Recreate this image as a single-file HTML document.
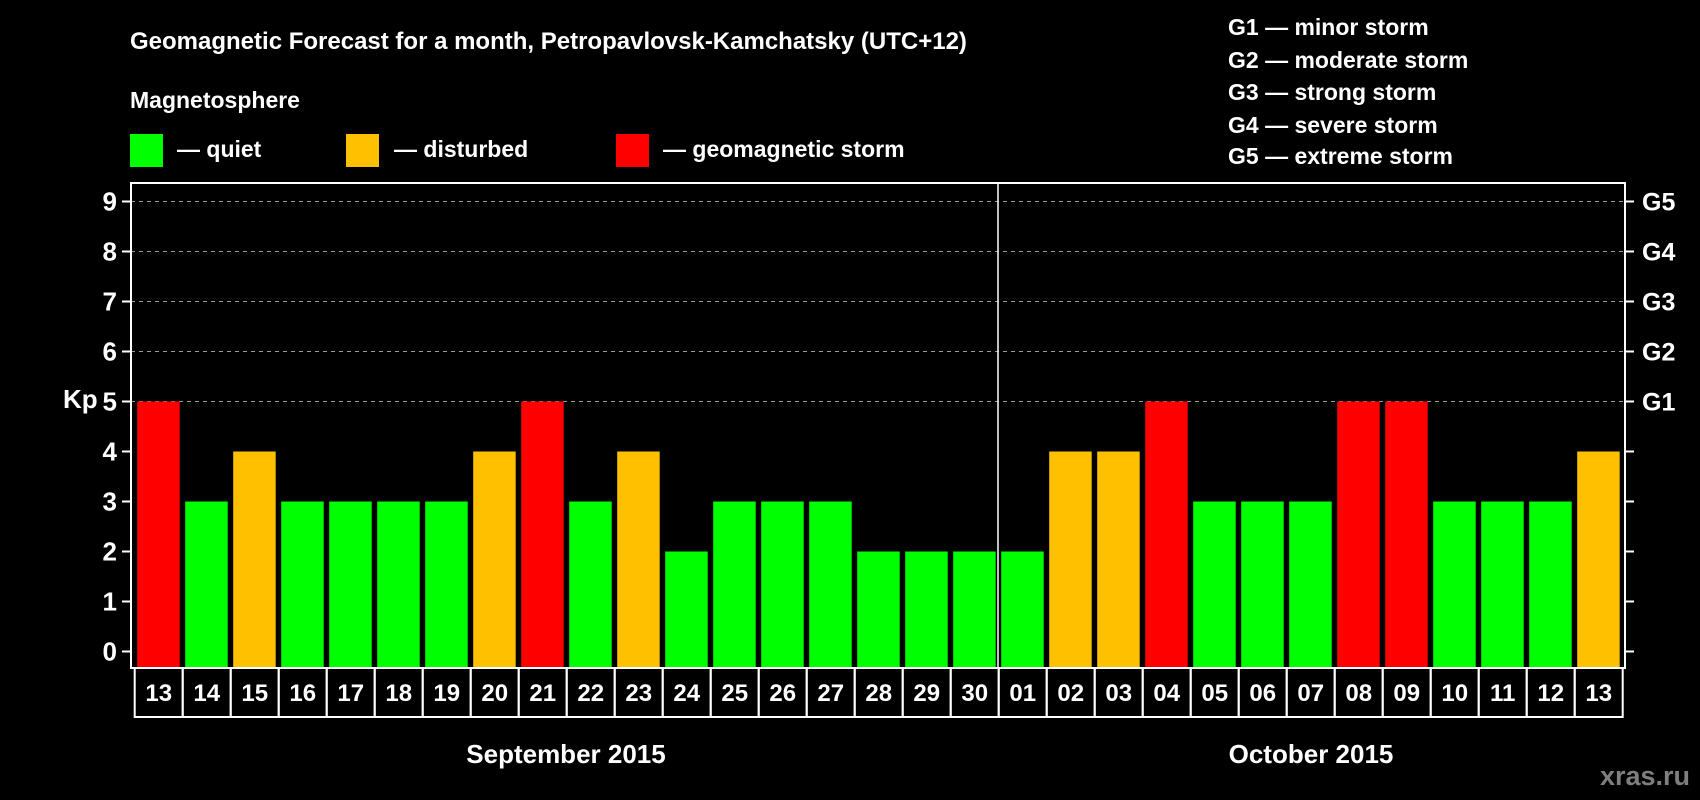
<!DOCTYPE html>
<html><head><meta charset="utf-8"><style>
body{margin:0;background:#000;}
svg{display:block;font-family:"Liberation Sans",Arial,sans-serif;font-weight:bold;}
</style></head><body>
<svg id="c" width="1700" height="800" viewBox="0 0 1700 800">
<rect width="1700" height="800" fill="#000"/>
<text x="130" y="49" fill="#fff" font-size="24">Geomagnetic Forecast for a month, Petropavlovsk-Kamchatsky (UTC+12)</text>
<text x="130" y="108" fill="#fff" font-size="23">Magnetosphere</text>
<g><rect x="130" y="134" width="33" height="33" fill="#00ff00"/><text x="177" y="157" fill="#fff" font-size="23">— quiet</text></g>
<g><rect x="346" y="134" width="33" height="33" fill="#ffc000"/><text x="394" y="157" fill="#fff" font-size="23">— disturbed</text></g>
<g><rect x="616" y="134" width="33" height="33" fill="#ff0000"/><text x="663" y="157" fill="#fff" font-size="23">— geomagnetic storm</text></g>
<g fill="#fff" font-size="23">
<text x="1228" y="35">G1 — minor storm</text>
<text x="1228" y="68">G2 — moderate storm</text>
<text x="1228" y="100">G3 — strong storm</text>
<text x="1228" y="133">G4 — severe storm</text>
<text x="1228" y="164">G5 — extreme storm</text>
</g>
<text x="63" y="408" fill="#fff" font-size="26">Kp</text>
<text x="566" y="763" fill="#fff" font-size="26" text-anchor="middle">September 2015</text>
<text x="1311" y="763" fill="#fff" font-size="26" text-anchor="middle">October 2015</text>
<text x="1690" y="785" fill="#7f7f7f" font-size="27" text-anchor="end">xras.ru</text>
<g id="grid"></g><g id="bars"></g><g id="cells"></g>
<rect x="131" y="183" width="1494" height="485" fill="none" stroke="#fff" stroke-width="2"/>
<line x1="998" y1="183" x2="998" y2="668" stroke="#fff" stroke-width="1.5"/>
</svg>
<script>
const days=["13","14","15","16","17","18","19","20","21","22","23","24","25","26","27","28","29","30","01","02","03","04","05","06","07","08","09","10","11","12","13"];
const kp=[5,3,4,3,3,3,3,4,5,3,4,2,3,3,3,2,2,2,2,4,4,5,3,3,3,5,5,3,3,3,4];
const yTicks=[0,1,2,3,4,5,6,7,8,9];
const gLabels=["G1","G2","G3","G4","G5"];
const NS="http://www.w3.org/2000/svg";
const y=v=>651.5-v*50;
const x0=134.7,cw=48;
const cx=i=>x0+i*cw;
function mk(t,a,p){const e=document.createElementNS(NS,t);for(const k in a)e.setAttribute(k,a[k]);p.appendChild(e);return e;}
const grid=document.getElementById('grid'),bars=document.getElementById('bars'),cells=document.getElementById('cells');
yTicks.forEach(v=>{
  if(v>=5){const l=mk('line',{x1:131,x2:1625,y1:y(v),y2:y(v),stroke:'#999','stroke-dasharray':'4 4','stroke-width':1},grid);
  
  }
  mk('line',{x1:122,x2:131,y1:y(v),y2:y(v),stroke:'#fff','stroke-width':2},grid);
  mk('line',{x1:1625,x2:1634,y1:y(v),y2:y(v),stroke:'#fff','stroke-width':2},grid);
  const t=mk('text',{x:117,y:y(v)+9,fill:'#fff','font-size':26,'text-anchor':'end'},grid);t.textContent=v;
  
  
});
gLabels.forEach((g,i)=>{
  const t=mk('text',{x:1642,y:y(i+5)+9,fill:'#fff','font-size':25},grid);t.textContent=g;
  
  
});
kp.forEach((v,i)=>{
  const col=v>=5?'#ff0000':(v>=4?'#ffc000':'#00ff00');
  const r=mk('rect',{x:cx(i)+2.5,y:y(v),width:42.5,height:668-y(v),fill:col},bars);
  
  
  const c=mk('rect',{x:cx(i),y:668,width:cw,height:49,fill:'none',stroke:'#fff','stroke-width':2},cells);
  
  
  const t=mk('text',{x:cx(i)+cw/2,y:701,fill:'#fff','font-size':24,'text-anchor':'middle'},cells);t.textContent=days[i];
  
  
});
</script>
</body></html>
